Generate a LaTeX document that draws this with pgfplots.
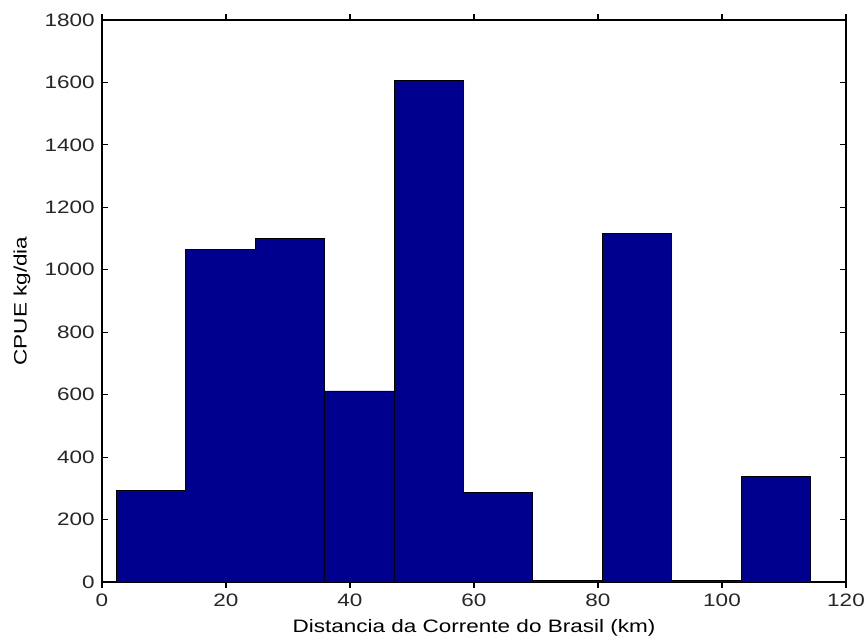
\documentclass[border=0pt]{standalone}
\usepackage{fontspec}
\setmainfont[FakeStretch=1.25]{Liberation Sans}
\usepackage{pgfplots}
\pgfplotsset{compat=1.18}
\definecolor{barnavy}{RGB}{0,0,143}

\begin{document}
\begin{tikzpicture}[font=\fontsize{13.5pt}{16pt}\selectfont]
\begin{axis}[
  scale only axis,
  width=558pt, height=421.5pt,
  xmin=0, xmax=120, ymin=0, ymax=1800,
  xtick={0,20,...,120},
  ytick={0,200,...,1800},
  tick align=inside,
  major tick length=4.5pt,
  tick style={black, line width=0.8pt},
  axis line style={black, line width=0.9pt},
  /pgf/number format/assume math mode=true,
  /pgf/number format/1000 sep={},
  xticklabel style={text=black!85, yshift=-1pt},
  yticklabel style={text=black!85, xshift=-2pt},
  xlabel={Distancia da Corrente do Brasil (km)},
  ylabel={CPUE kg/dia},
  xlabel style={at={(axis description cs:0.5,-0.082)}, anchor=center},
  ylabel style={at={(axis description cs:-0.1075,0.5)}, anchor=center},
  ybar, bar width=11.19, bar shift=0pt,
]
\addplot[fill=barnavy, draw=black, line width=0.6pt]
  coordinates{(7.9,292)(19.1,1065)(30.3,1100)(41.5,612)(52.7,1607)
              (63.9,286)(75.1,5)(86.3,1117)(97.5,5)(108.7,337)};
\end{axis}
\pgfresetboundingbox
\path[use as bounding box]
  ([xshift=-76.5pt,yshift=-45pt]current axis.south west)
  rectangle ([xshift=14.25pt,yshift=15pt]current axis.north east);
\end{tikzpicture}
\end{document}
